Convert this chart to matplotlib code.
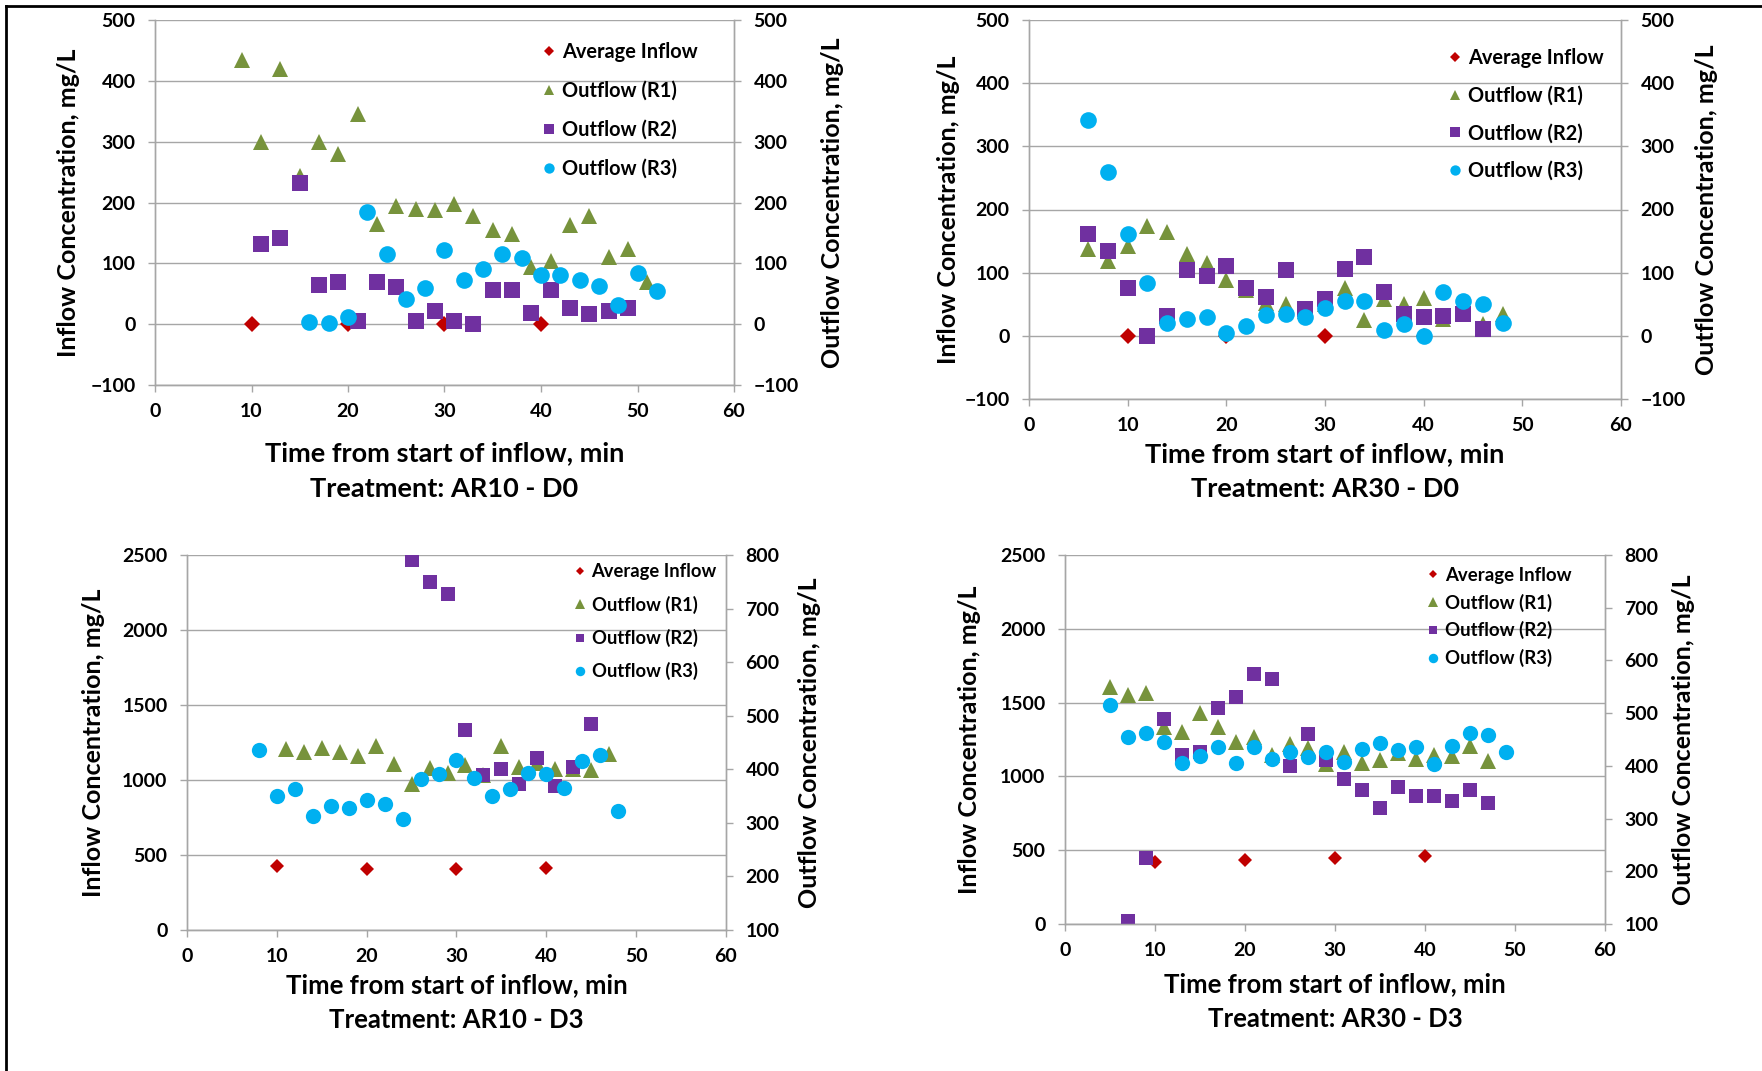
import matplotlib
matplotlib.use("Agg")
import matplotlib.pyplot as plt
from matplotlib.lines import Line2D

plt.rcParams['font.family'] = ['Lato', 'DejaVu Sans']
plt.rcParams['font.weight'] = 'bold'

# ---- AR10 - D0 ----
p1_in_t = [10, 20, 30, 40]
p1_in = [0, 0, 0, 0]
p1_r1_t = [9, 11, 13, 15, 17, 19, 21, 23, 25, 27, 29, 31, 33, 35, 37, 39, 41, 43, 45, 47, 49, 51]
p1_r1 = [434, 300, 420, 243, 299, 279, 345, 164, 194, 189, 188, 198, 177, 154, 148, 94, 104, 163, 178, 110, 124, 69]
p1_r2_t = [11, 13, 15, 17, 19, 21, 23, 25, 27, 29, 31, 33, 35, 37, 39, 41, 43, 45, 47, 49]
p1_r2 = [131, 141, 232, 65, 70, 5, 70, 61, 5, 22, 5, 1, 56, 56, 18, 56, 26, 16, 22, 26]
p1_r3_t = [16, 18, 20, 22, 24, 26, 28, 30, 32, 34, 36, 38, 40, 42, 44, 46, 48, 50, 52]
p1_r3 = [4, 2, 11, 185, 116, 41, 59, 122, 72, 91, 116, 108, 81, 81, 72, 62, 32, 84, 54]

# ---- AR30 - D0 ----
p2_in_t = [10, 20, 30, 40]
p2_in = [0, 0, 0, 0]
p2_r1_t = [6, 8, 10, 12, 14, 16, 18, 20, 22, 24, 26, 28, 30, 32, 34, 36, 38, 40, 42, 44, 46, 48]
p2_r1 = [138, 118, 142, 174, 164, 130, 116, 89, 72, 52, 51, 40, 50, 76, 25, 59, 50, 60, 26, 36, 18, 34]
p2_r2_t = [6, 8, 10, 12, 14, 16, 18, 20, 22, 24, 26, 28, 30, 32, 34, 36, 38, 40, 42, 44, 46]
p2_r2 = [161, 135, 75, 0, 32, 105, 95, 110, 75, 62, 105, 43, 58, 106, 125, 69, 34, 30, 32, 35, 11]
p2_r3_t = [6, 8, 10, 12, 14, 16, 18, 20, 22, 24, 26, 28, 30, 32, 34, 36, 38, 40, 42, 44, 46, 48]
p2_r3 = [342, 260, 161, 83, 21, 26, 30, 5, 15, 33, 35, 30, 44, 55, 55, 10, 19, 0, 69, 55, 51, 20]

# ---- AR10 - D3 ----
p3_in_t = [10, 20, 30, 40]
p3_in = [428, 405, 405, 415]
p3_r1_t = [11, 13, 15, 17, 19, 21, 23, 25, 27, 29, 31, 33, 35, 37, 39, 41, 43, 45, 47]
p3_r1 = [438, 432, 439, 432, 425, 443, 409, 372, 403, 394, 408, 390, 444, 405, 412, 400, 400, 399, 428]
p3_r2_t = [25, 27, 29, 31, 33, 35, 37, 39, 41, 43, 45]
p3_r2 = [790, 749, 728, 473, 389, 400, 373, 422, 368, 405, 485]
p3_r3_t = [8, 10, 12, 14, 16, 18, 20, 22, 24, 26, 28, 30, 32, 34, 36, 38, 40, 42, 44, 46, 48]
p3_r3 = [436, 351, 364, 312, 331, 328, 343, 335, 307, 381, 391, 417, 383, 351, 363, 394, 392, 366, 416, 427, 323]

# ---- AR30 - D3 ----
p4_in_t = [10, 20, 30, 40]
p4_in = [420, 433, 445, 460]
p4_r1_t = [5, 7, 9, 11, 13, 15, 17, 19, 21, 23, 25, 27, 29, 31, 33, 35, 37, 39, 41, 43, 45, 47]
p4_r1 = [550, 535, 539, 473, 464, 501, 473, 445, 454, 420, 442, 433, 403, 426, 406, 411, 425, 413, 421, 419, 438, 410]
p4_r2_t = [7, 9, 11, 13, 15, 17, 19, 21, 23, 25, 27, 29, 31, 33, 35, 37, 39, 41, 43, 45, 47]
p4_r2 = [106, 225, 489, 421, 427, 509, 530, 574, 565, 399, 460, 412, 375, 355, 321, 359, 343, 343, 334, 355, 329]
p4_r3_t = [5, 7, 9, 11, 13, 15, 17, 19, 21, 23, 25, 27, 29, 31, 33, 35, 37, 39, 41, 43, 45, 47, 49]
p4_r3 = [515, 455, 462, 446, 406, 419, 435, 406, 435, 413, 427, 416, 427, 408, 432, 443, 431, 435, 403, 438, 462, 459, 427]

series_names = ["Average Inflow", "Outflow (R1)", "Outflow (R2)", "Outflow (R3)"]
x_ticks = [0, 10, 20, 30, 40, 50, 60]

RED = "#C00000"
GREEN = "#77933C"
PURPLE = "#7030A0"
CYAN = "#00B0F0"
GRID = "#A6A6A6"

fig = plt.figure(figsize=(17.62, 10.71), dpi=100)
W, H = 1762.0, 1071.0


def make_axes(left, right, top, bottom):
    return fig.add_axes([left / W, 1 - bottom / H, (right - left) / W, (bottom - top) / H])


def draw_panel(box, data, lticks, rticks, title, leg_xy, leg_space, leg_size, ms,
               xl_size, xl_pad, xl_ls, lpad, rpad):
    ax = make_axes(*box)
    ax2 = ax.twinx()
    in_t, in_v, r1_t, r1, r2_t, r2, r3_t, r3 = data

    h0, = ax.plot(in_t, in_v, 'D', color=RED, ms=ms * 0.66, mew=0, linestyle='none')
    h1, = ax2.plot(r1_t, r1, '^', color=GREEN, ms=ms, mew=0, linestyle='none')
    h2, = ax2.plot(r2_t, r2, 's', color=PURPLE, ms=ms * 0.95, mew=0, linestyle='none')
    h3, = ax2.plot(r3_t, r3, 'o', color=CYAN, ms=ms, mew=0, linestyle='none')

    ax.set_xlim(0, 60)
    ax.set_xticks(x_ticks)
    ax.set_ylim(lticks[0], lticks[-1])
    ax.set_yticks(lticks)
    ax2.set_ylim(rticks[0], rticks[-1])
    ax2.set_yticks(rticks)

    ax.grid(axis='y', color=GRID, linewidth=1.0)
    ax.set_axisbelow(True)

    for a in (ax, ax2):
        for s in a.spines.values():
            s.set_color(GRID)
            s.set_linewidth(1.0)
        a.spines['top'].set_visible(False)
        a.tick_params(colors=GRID, labelcolor='black', labelsize=14, length=5, width=1)
    ax.tick_params(axis='x', pad=8)
    ax.tick_params(axis='y', pad=9)
    ax2.tick_params(axis='y', pad=9)

    ax.set_ylabel("Inflow Concentration, mg/L", fontsize=18, fontweight='bold', labelpad=lpad)
    ax2.set_ylabel("Outflow Concentration, mg/L", fontsize=18, fontweight='bold', labelpad=rpad)
    ax.set_xlabel("Time from start of inflow, min\n" + title, fontsize=xl_size,
                  fontweight='bold', linespacing=xl_ls, labelpad=xl_pad)

    ax2.legend([h0, h1, h2, h3], series_names, loc='upper left', bbox_to_anchor=leg_xy,
               frameon=False, fontsize=leg_size, markerscale=0.62, handlelength=0.7,
               handletextpad=0.3, labelspacing=leg_space, borderaxespad=0)


draw_panel((155, 734, 20, 385),
           (p1_in_t, p1_in, p1_r1_t, p1_r1, p1_r2_t, p1_r2, p1_r3_t, p1_r3),
           [-100, 0, 100, 200, 300, 400, 500], [-100, 0, 100, 200, 300, 400, 500],
           "Treatment: AR10 - D0", (0.655, 0.962), 0.95, 14.4, 12,
           19.5, 15, 1.62, 7.5, 16)

draw_panel((1029, 1621, 20, 399),
           (p2_in_t, p2_in, p2_r1_t, p2_r1, p2_r2_t, p2_r2, p2_r3_t, p2_r3),
           [-100, 0, 100, 200, 300, 400, 500], [-100, 0, 100, 200, 300, 400, 500],
           "Treatment: AR30 - D0", (0.695, 0.947), 0.88, 14.4, 12,
           19.5, 6, 1.52, 3, 7)

draw_panel((187, 726, 555, 930),
           (p3_in_t, p3_in, p3_r1_t, p3_r1, p3_r2_t, p3_r2, p3_r3_t, p3_r3),
           [0, 500, 1000, 1500, 2000, 2500], [100, 200, 300, 400, 500, 600, 700, 800],
           "Treatment: AR10 - D3", (0.703, 0.997), 0.83, 13.2, 11,
           18.5, 5.5, 1.55, 12.5, 13)

draw_panel((1065, 1605, 555, 924),
           (p4_in_t, p4_in, p4_r1_t, p4_r1, p4_r2_t, p4_r2, p4_r3_t, p4_r3),
           [0, 500, 1000, 1500, 2000, 2500], [100, 200, 300, 400, 500, 600, 700, 800],
           "Treatment: AR30 - D3", (0.655, 0.988), 0.52, 13.4, 11,
           18.5, 9.5, 1.55, 14, 10)

# outer frame lines (top and left only)
fig.add_artist(Line2D([6 / W, 6 / W], [0, 1 - 6 / H], transform=fig.transFigure, color='black', lw=2))
fig.add_artist(Line2D([6 / W, 1], [1 - 6 / H, 1 - 6 / H], transform=fig.transFigure, color='black', lw=2))

fig.savefig("out.png", dpi=100, facecolor='white')
